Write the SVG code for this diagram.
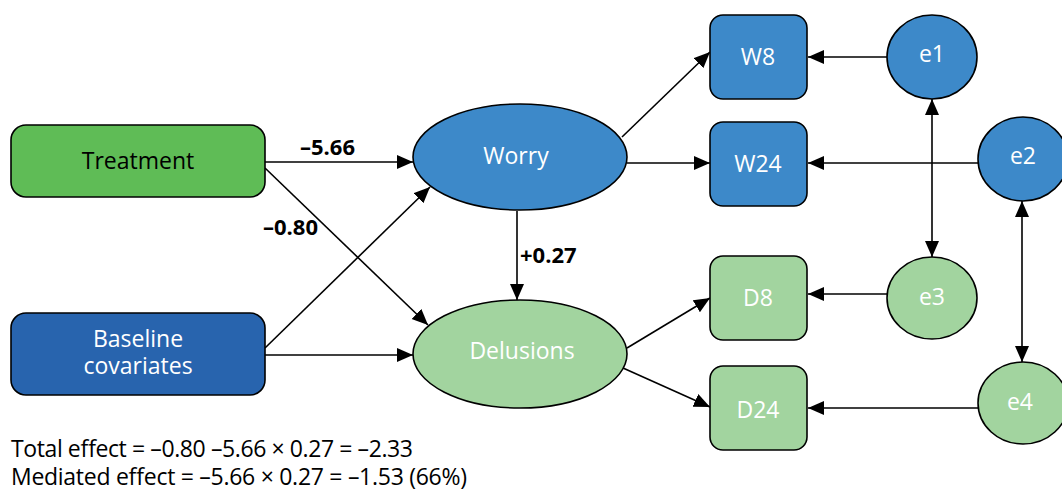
<svg xmlns="http://www.w3.org/2000/svg" width="1062" height="492" viewBox="0 0 1062 492">
<defs>
<marker id="ah" markerUnits="userSpaceOnUse" markerWidth="17" markerHeight="15" refX="16" refY="7" orient="auto-start-reverse" viewBox="0 0 17 15">
<path d="M0,0 L16,7 L0,14 z" fill="#000"/>
</marker>
<style>
.n{stroke:#000;stroke-width:1.6}
.blue{fill:#3d89c9}
.dblue{fill:#2864ae}
.green{fill:#5fbc56}
.lgreen{fill:#a2d49f}
.t{font-family:"Open Sans","Noto Sans",sans-serif;font-size:23px;text-anchor:middle;fill:#fff}
.k{fill:#000}
.lab{font-family:"Open Sans","Noto Sans",sans-serif;font-size:22px;font-weight:bold;fill:#000}
.c line{stroke:#000;stroke-width:1.6;marker-end:url(#ah)}
.foot{font-family:"Open Sans","Noto Sans",sans-serif;font-size:23px;fill:#000}
</style>
</defs>
<rect width="1062" height="492" fill="#fff"/>
<g class="c" id="connectors">
<line x1="265" y1="162" x2="413" y2="162"/>
<line x1="265" y1="168" x2="428" y2="325"/>
<line x1="265" y1="348" x2="430" y2="187"/>
<line x1="265" y1="355" x2="413" y2="355"/>
<line x1="517" y1="211" x2="517" y2="300"/>
<line x1="622" y1="137" x2="710" y2="52"/>
<line x1="627" y1="163" x2="710" y2="163"/>
<line x1="627" y1="348" x2="710" y2="298"/>
<line x1="623" y1="368" x2="710" y2="407"/>
<line x1="887" y1="57" x2="808" y2="57"/>
<line x1="978" y1="163" x2="808" y2="163"/>
<line x1="887" y1="294" x2="808" y2="294"/>
<line x1="978" y1="408" x2="808" y2="408"/>
<line x1="932" y1="99" x2="932" y2="257" style="marker-start:url(#ah)"/>
<line x1="1022" y1="201" x2="1022" y2="362" style="marker-start:url(#ah)"/>
</g>
<g id="labels">
<text class="lab" x="300" y="155">–5.66</text>
<text class="lab" x="263" y="235">–0.80</text>
<text class="lab" x="520" y="263">+0.27</text>
</g>
<g id="treatment">
<rect class="n green" x="11" y="125" width="254" height="72" rx="15"/>
<text class="t k" x="138" y="169">Treatment</text>
</g>
<g id="baseline">
<rect class="n dblue" x="11" y="313" width="254" height="82" rx="15"/>
<text class="t" x="138" y="347">Baseline</text>
<text class="t" x="138" y="374">covariates</text>
</g>
<g id="worry">
<ellipse class="n blue" cx="520" cy="157" rx="107" ry="53"/>
<text class="t" x="516" y="164">Worry</text>
</g>
<g id="delusions">
<ellipse class="n lgreen" cx="520" cy="354" rx="107" ry="54"/>
<text class="t" x="522" y="359">Delusions</text>
</g>
<g id="W8">
<rect class="n blue" x="710" y="15" width="97" height="84" rx="13"/>
<text class="t" x="758" y="65">W8</text>
</g>
<g id="W24">
<rect class="n blue" x="710" y="122" width="97" height="84" rx="13"/>
<text class="t" x="758" y="172">W24</text>
</g>
<g id="D8">
<rect class="n lgreen" x="710" y="256" width="97" height="84" rx="13"/>
<text class="t" x="758" y="306">D8</text>
</g>
<g id="D24">
<rect class="n lgreen" x="710" y="366" width="97" height="84" rx="13"/>
<text class="t" x="758" y="418">D24</text>
</g>
<g id="e1">
<ellipse class="n blue" cx="932" cy="57" rx="45" ry="42"/>
<text class="t" x="932" y="62">e1</text>
</g>
<g id="e2">
<ellipse class="n blue" cx="1023" cy="159" rx="45" ry="42"/>
<text class="t" x="1023" y="164">e2</text>
</g>
<g id="e3">
<ellipse class="n lgreen" cx="932" cy="298" rx="45" ry="41"/>
<text class="t" x="932" y="305">e3</text>
</g>
<g id="e4">
<ellipse class="n lgreen" cx="1023" cy="403" rx="45" ry="41"/>
<text class="t" x="1020" y="410">e4</text>
</g>
<g id="footer">
<text class="foot" x="11" y="457" textLength="402" lengthAdjust="spacing">Total effect = –0.80 –5.66 × 0.27 = –2.33</text>
<text class="foot" x="11" y="485" textLength="456" lengthAdjust="spacing">Mediated effect = –5.66 × 0.27 = –1.53 (66%)</text>
</g>
</svg>
